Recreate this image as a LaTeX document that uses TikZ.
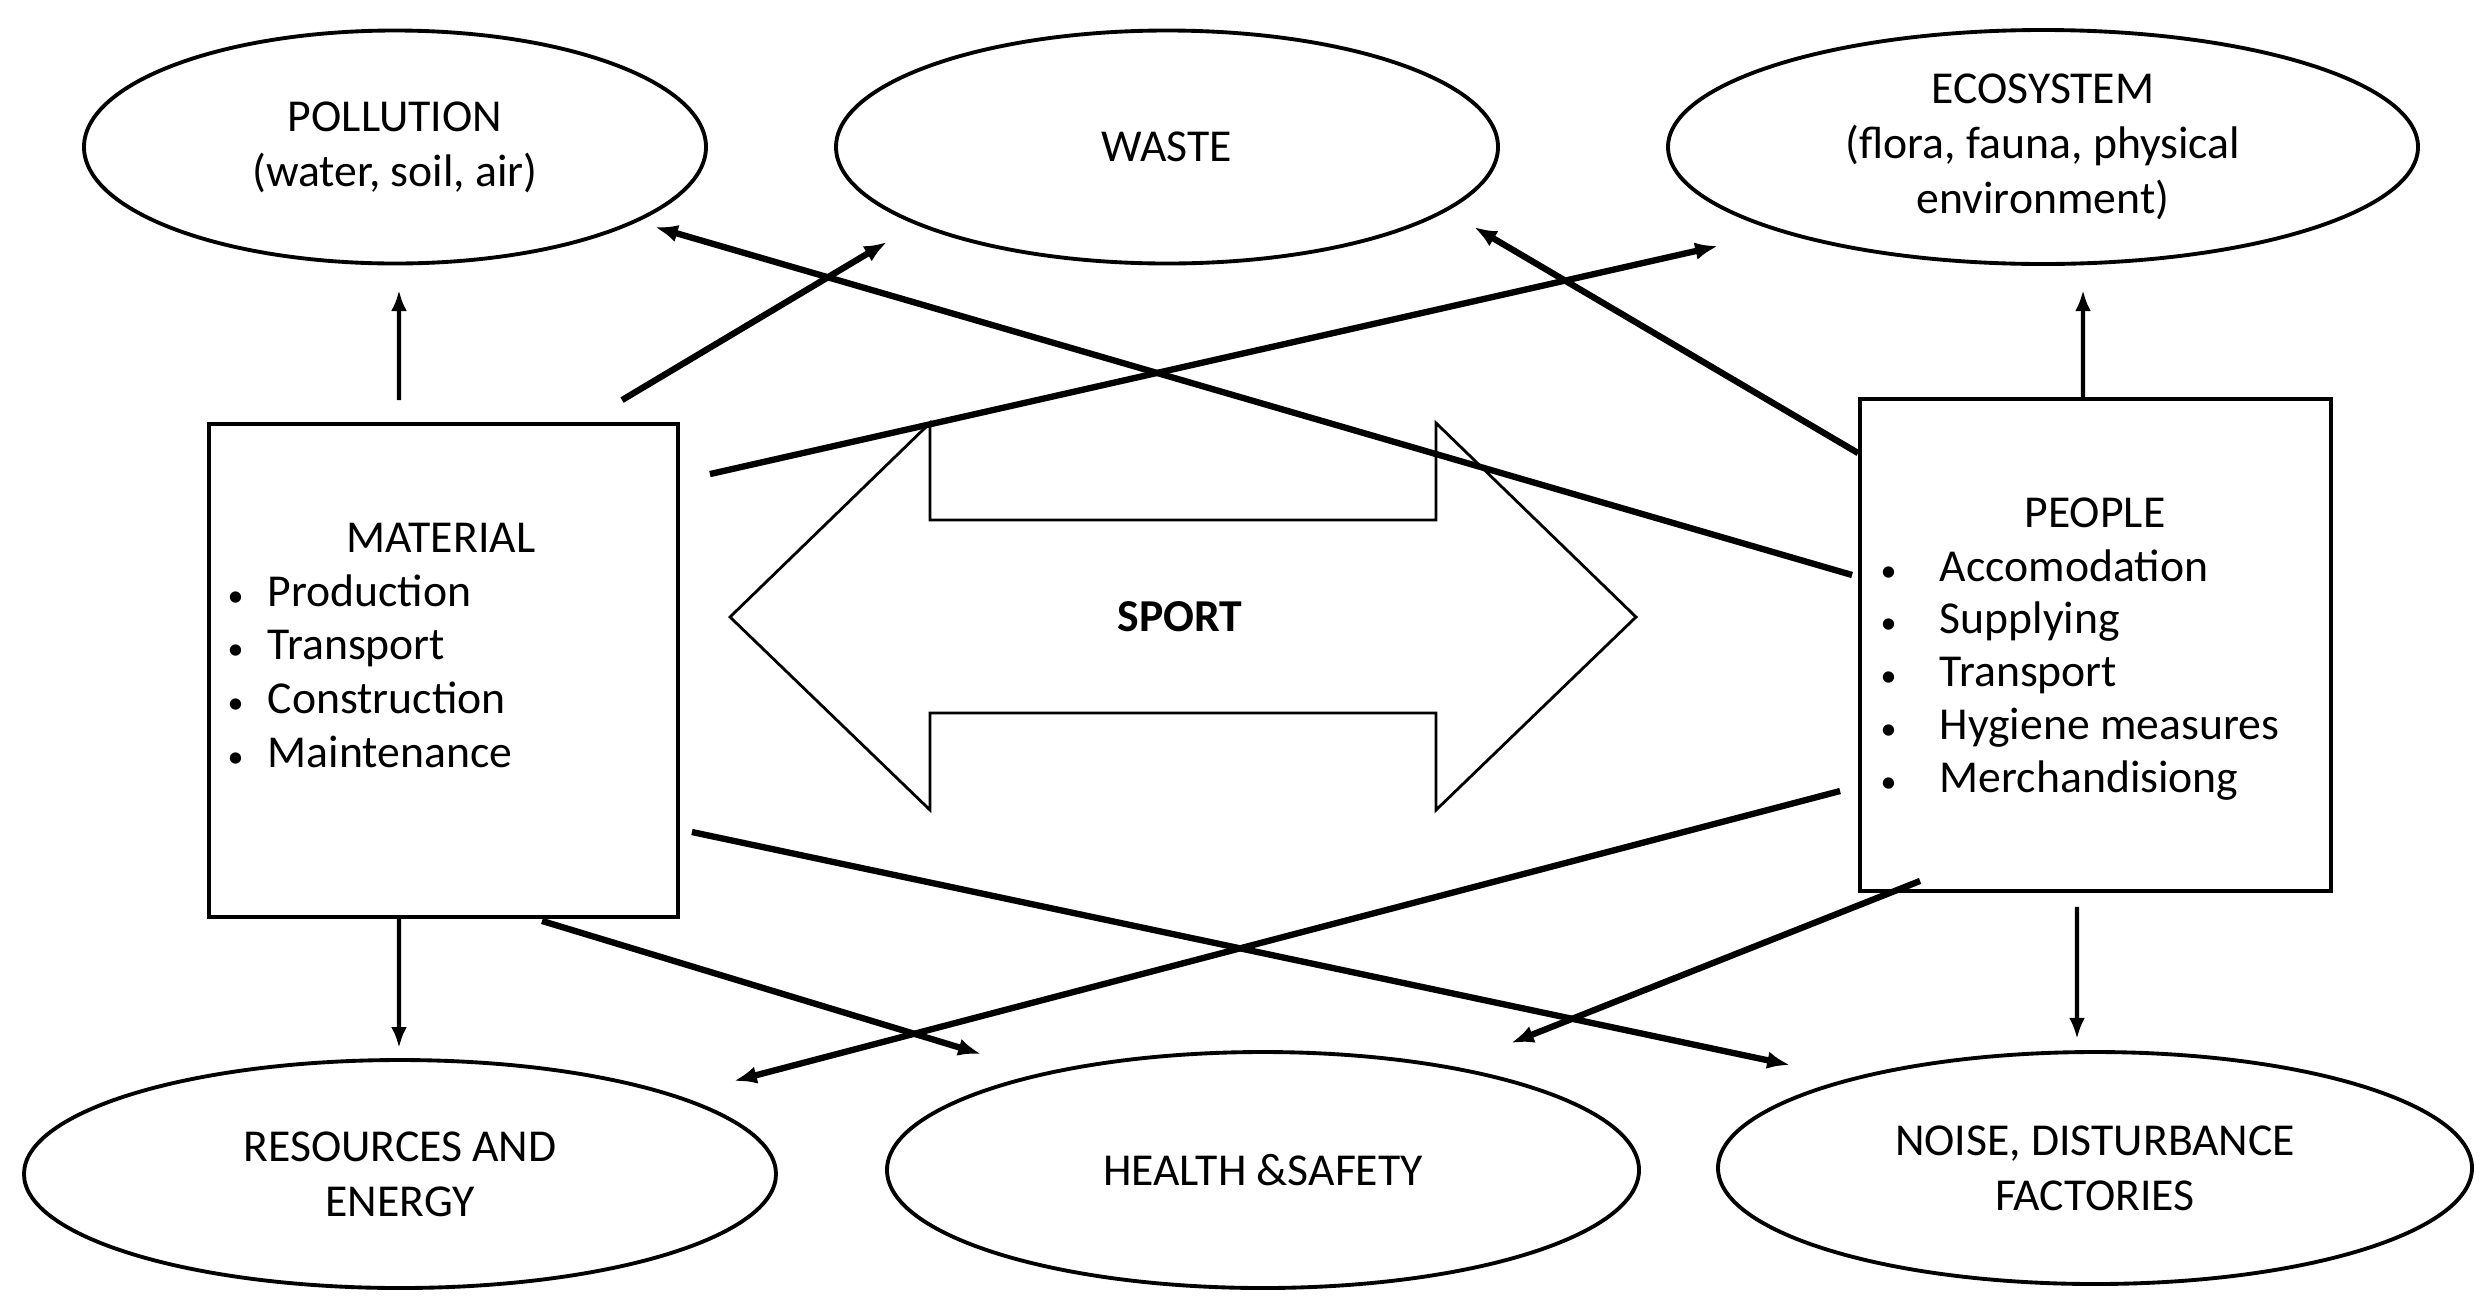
\documentclass[tikz,border=0pt]{standalone}
\usepackage{fontspec}
\setmainfont{Carlito}
\usetikzlibrary{arrows.meta}
\usetikzlibrary{shapes.geometric}

\newcommand{\smallbul}{\scalebox{0.7}{\textbullet}}

\tikzset{
  goal/.style={draw, ellipse, line width=1.1pt, inner sep=0pt, align=center,
    font=\fontsize{13}{15.6}\selectfont},
  block/.style={draw, rectangle, line width=1.1pt, inner sep=0pt},
  txt/.style={inner sep=0pt, font=\fontsize{13}{15.6}\selectfont},
  thinarr/.style={line width=1.2pt, -{Latex[length=6pt,width=4.5pt]}},
  thickarr/.style={line width=1.8pt, -{Latex[length=6.5pt,width=5pt]}}
}

\begin{document}
\begin{tikzpicture}
      \useasboundingbox (0,0) rectangle (24.92,-13.10);
      \node[goal, minimum width=6.22cm, minimum height=2.33cm] (pol) at (3.95,-1.47) {POLLUTION\\(water, soil, air)};
      \node[goal, minimum width=6.62cm, minimum height=2.33cm] (waste) at (11.67,-1.47) {WASTE};
      \node[goal, minimum width=7.50cm, minimum height=2.34cm] (eco) at (20.43,-1.47) {ECOSYSTEM\\(flora, fauna, physical\\environment)};
      \node[goal, minimum width=7.52cm, minimum height=2.28cm] (res) at (4.00,-11.74) {RESOURCES AND\\ENERGY};
      \node[goal, minimum width=7.52cm, minimum height=2.36cm] (health) at (12.63,-11.70) {HEALTH \&SAFETY};
      \node[goal, minimum width=7.54cm, minimum height=2.32cm] (noise) at (20.95,-11.68) {NOISE, DISTURBANCE\\FACTORIES};

      \node[block, minimum width=4.69cm, minimum height=4.93cm] (mat) at (4.435,-6.705) {};
      \node[block, minimum width=4.71cm, minimum height=4.92cm] (people) at (20.955,-6.45) {};
      \node[txt, anchor=base] (mattitle) at (4.41,-5.52) {MATERIAL};
      \foreach \t [count=\i] in {Production, Transport, Construction, Maintenance}
        \node[txt, anchor=base west] (mat\i) at (2.27,-6.06-0.537*\i+0.537) {\makebox[0.40cm][l]{\smallbul}\t};
      \node[txt, anchor=base] (peopletitle) at (20.95,-5.27) {PEOPLE};
      \foreach \t [count=\i] in {Accomodation, Supplying, Transport, Hygiene measures, Merchandisiong}
        \node[txt, anchor=base west] (people\i) at (18.80,-5.81-0.5275*\i+0.5275) {\makebox[0.59cm][l]{\smallbul}\t};

      \draw[line width=0.8pt] (7.30,-6.17) -- (9.30,-4.23) -- (9.30,-5.20) -- (14.36,-5.20) -- (14.36,-4.23)
        -- (16.36,-6.17) -- (14.36,-8.10) -- (14.36,-7.13) -- (9.30,-7.13) -- (9.30,-8.10) -- cycle;
      \node[txt, font=\fontsize{13}{15.6}\selectfont\bfseries] (sport) at (11.80,-6.17) {SPORT};

      \draw[thinarr] ([shift={(-0.445,0.22)}]mat.north) -- ([shift={(0.04,-0.245)}]pol.south);
      \draw[thickarr] ([shift={(1.785,0.22)}]mat.north) -- ([shift={(-2.80,-0.95)}]waste.center);
      \draw[thickarr] ([shift={(0.30,-0.52)}]mat.north east) -- ([shift={(-3.25,-0.99)}]eco.center);
      \draw[thickarr] ([shift={(-0.06,0.70)}]people.west) -- ([shift={(2.60,-0.80)}]pol.center);
      \draw[thickarr] ([shift={(0,-0.56)}]people.north west) -- ([shift={(3.07,-0.80)}]waste.center);
      \draw[thinarr] ([shift={(-0.125,0)}]people.north) -- ([shift={(0.40,-0.24)}]eco.south);
      \draw[thinarr] ([shift={(-0.445,0)}]mat.south) -- ([shift={(-0.01,0.10)}]res.north);
      \draw[thickarr] ([shift={(0.985,-0.02)}]mat.south) -- ([shift={(-2.82,1.16)}]health.center);
      \draw[thickarr] ([shift={(0.12,-1.615)}]mat.east) -- ([shift={(-3.05,1.03)}]noise.center);
      \draw[thickarr] ([shift={(-0.18,-1.46)}]people.west) -- ([shift={(3.34,0.93)}]res.center);
      \draw[thickarr] ([shift={(0.62,0.12)}]people.south west) -- ([shift={(2.48,1.27)}]health.center);
      \draw[thinarr] ([shift={(-0.185,-0.14)}]people.south) -- ([shift={(-0.18,0.11)}]noise.north);
    \end{tikzpicture}
\end{document}
